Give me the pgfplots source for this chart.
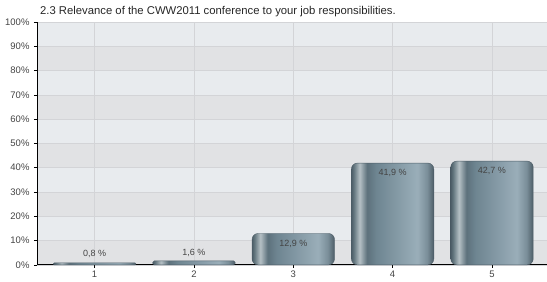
\documentclass[border=0pt]{standalone}
\usepackage{pgfplots}
\pgfplotsset{compat=1.18}
\usepackage{fontspec}
\setmainfont{Liberation Sans}
\definecolor{bandA}{HTML}{E8EBEE}
\definecolor{bandB}{HTML}{E1E2E4}
\definecolor{gridc}{HTML}{D3D4D7}
\definecolor{ticktext}{HTML}{444444}
\definecolor{barline}{HTML}{4E5E68}
\definecolor{sA}{HTML}{4C5D67}
\definecolor{sB}{HTML}{64777F}
\definecolor{sC}{HTML}{B5C0C5}
\definecolor{sD}{HTML}{5D717C}
\definecolor{sE}{HTML}{6E8591}
\definecolor{sF}{HTML}{9AAEB9}
\definecolor{sG}{HTML}{7A8E99}
\definecolor{sH}{HTML}{4C5C66}
\pgfdeclarehorizontalshading{barshade}{100bp}{%
 color(0bp)=(sA);
 color(25bp)=(sA);
 color(26.5bp)=(sB);
 color(30bp)=(sC);
 color(34.5bp)=(sD);
 color(40bp)=(sE);
 color(65bp)=(sF);
 color(71bp)=(sG);
 color(75bp)=(sH);
 color(100bp)=(sH)}

\pgfplotsset{
  mybar/.style 2 args={ybar, bar width=0.83, draw=barline, line width=0.4pt,
    shading=barshade, rounded corners=#1,
    point meta=y,
    nodes near coords={\pgfmathprintnumber[fixed,precision=1,fixed zerofill,use comma]{\pgfplotspointmeta}~\%},
    every node near coord/.append style={anchor=center, yshift=#2,
      font=\fontsize{9bp}{10bp}\selectfont, text=ticktext, rounded corners=0pt}},
}

\begin{document}
\begin{tikzpicture}
\begin{axis}[
  set layers=standard,
  at={(0,0)}, anchor=south west,
  scale only axis, width=510bp, height=243bp,
  xmin=0.42, xmax=5.55, ymin=0, ymax=100,
  axis x line*=bottom, axis y line*=left,
  axis line style={black, line width=0.8pt, -},
  xtick={1,2,3,4,5},
  ytick={0,10,...,100},
  yticklabel={\pgfmathprintnumber{\tick}\%},
  tick align=outside,
  major tick length=3bp,
  tick style={black, line width=0.6pt},
  xmajorgrids, ymajorgrids,
  grid style={gridc, line width=0.5pt},
  ticklabel style={font=\fontsize{9.5bp}{11bp}\selectfont, text=ticktext},
  xticklabel style={yshift=0bp},
  yticklabel style={xshift=-1bp},
  /pgf/number format/assume math mode=true,
  axis background/.style={fill=bandA},
  title={2.3 Relevance of the CWW2011 conference to your job responsibilities.},
  title style={at={(rel axis cs:0,1)}, anchor=base west, xshift=3bp, yshift=2bp, inner sep=0pt,
    font=\fontsize{11.3bp}{13bp}\selectfont, text=black!85},
  clip=false,
]
\addplot[on layer=axis background, fill=bandB, draw=none] coordinates {(0.42,0) (5.55,0) (5.55,10) (0.42,10)} -- cycle;
\addplot[on layer=axis background, fill=bandB, draw=none] coordinates {(0.42,20) (5.55,20) (5.55,30) (0.42,30)} -- cycle;
\addplot[on layer=axis background, fill=bandB, draw=none] coordinates {(0.42,40) (5.55,40) (5.55,50) (0.42,50)} -- cycle;
\addplot[on layer=axis background, fill=bandB, draw=none] coordinates {(0.42,60) (5.55,60) (5.55,70) (0.42,70)} -- cycle;
\addplot[on layer=axis background, fill=bandB, draw=none] coordinates {(0.42,80) (5.55,80) (5.55,90) (0.42,90)} -- cycle;
\addplot[mybar={0.8bp}{9bp}] coordinates {(1,0.8)};
\addplot[mybar={1.5bp}{8bp}] coordinates {(2,1.6)};
\addplot[mybar={6bp}{-10bp}] coordinates {(3,12.9)};
\addplot[mybar={6bp}{-10bp}] coordinates {(4,41.9)};
\addplot[mybar={6bp}{-10bp}] coordinates {(5,42.7)};
\end{axis}
\path (-37bp,-16bp) rectangle (510bp,265bp);
\end{tikzpicture}
\end{document}
